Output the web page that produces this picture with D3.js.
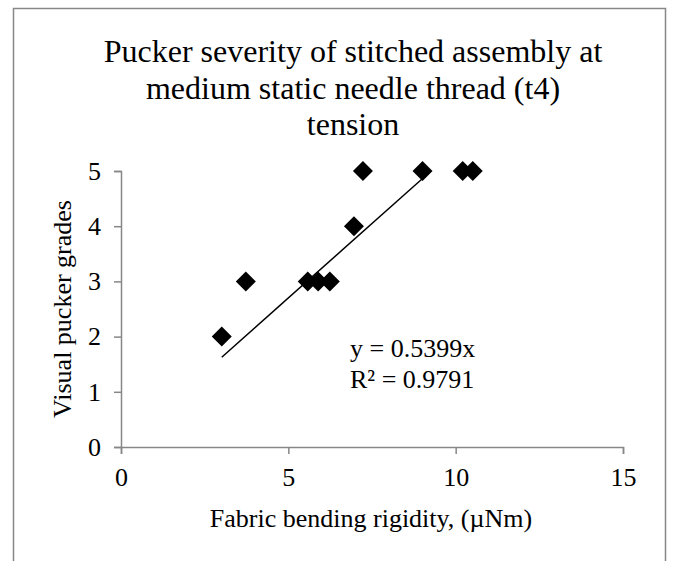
<!DOCTYPE html>
<html>
<head>
<meta charset="utf-8">
<script src="https://cdn.jsdelivr.net/npm/d3@7"></script>
<style>
  body { margin: 0; background: #fff; }
  text { font-family: "Liberation Serif", "Times New Roman", serif; fill: #000; }
</style>
</head>
<body>
<div id="chart"></div>
<script>
const rigidity = [3.01, 3.73, 5.58, 5.89, 6.24, 6.96, 7.23, 9.01, 10.21, 10.51];
const grades = [2, 3, 3, 3, 3, 4, 5, 5, 5, 5];
const slope = 0.5399;
const trendRange = [3.01, 9.01];
const xTicks = [0, 5, 10, 15];
const yTicks = [0, 1, 2, 3, 4, 5];
const titleLines = ["Pucker severity of stitched assembly at", "medium static needle thread (t4)", "tension"];
const equationLines = ["y = 0.5399x", "R² = 0.9791"];

const width = 673;
const height = 561;
const axisColor = "#878787";
const svg = d3.select("#chart").append("svg").attr("width", width).attr("height", height);

// chart frame (bottom edge runs off the picture)
svg.append("path")
  .attr("d", `M13.5,${height + 2}V8.5H665.5V${height + 2}`)
  .attr("fill", "none")
  .attr("stroke", axisColor)
  .attr("stroke-width", 1.5);

const x = d3.scaleLinear().domain([0, 15]).range([121, 623]);
const y = d3.scaleLinear().domain([0, 5]).range([447, 171]);

svg.append("g")
  .selectAll("text")
  .data(titleLines)
  .enter()
  .append("text")
  .attr("x", 353)
  .attr("y", (d, i) => 62 + i * 36.7)
  .attr("text-anchor", "middle")
  .attr("font-size", "32px")
  .text(d => d);

const xAxis = svg.append("g")
  .attr("transform", `translate(0,${y(0)})`)
  .call(d3.axisBottom(x).tickValues(xTicks).tickFormat(d3.format("d")).tickSize(7).tickPadding(14));
const yAxis = svg.append("g")
  .attr("transform", `translate(${x(0)},0)`)
  .call(d3.axisLeft(y).tickValues(yTicks).tickFormat(d3.format("d")).tickSize(7).tickPadding(13));

[xAxis, yAxis].forEach(ax => {
  ax.attr("font-size", null).attr("font-family", null);
  ax.select(".domain").attr("stroke", axisColor).attr("stroke-width", 1.5);
  ax.selectAll(".tick line").attr("stroke", axisColor).attr("stroke-width", 1.5);
  ax.selectAll(".tick text")
    .style("font-size", "26px")
    .attr("fill", "#000");
});

svg.append("text")
  .attr("x", 371)
  .attr("y", 527)
  .attr("text-anchor", "middle")
  .attr("font-size", "26px")
  .text("Fabric bending rigidity, (µNm)");

svg.append("text")
  .attr("transform", `translate(71,${(y(0) + y(5)) / 2}) rotate(-90)`)
  .attr("text-anchor", "middle")
  .attr("font-size", "26px")
  .text("Visual pucker grades");

// linear trendline through origin
svg.append("line")
  .attr("x1", x(trendRange[0]))
  .attr("y1", y(slope * trendRange[0]))
  .attr("x2", x(trendRange[1]))
  .attr("y2", y(slope * trendRange[1]))
  .attr("stroke", "#000")
  .attr("stroke-width", 1.5);

const diamond = d3.symbol().type(d3.symbolSquare).size(200);
svg.append("g")
  .selectAll("path")
  .data(rigidity)
  .enter()
  .append("path")
  .attr("d", diamond)
  .attr("transform", (d, i) => `translate(${x(d)},${y(grades[i])}) rotate(45)`)
  .attr("fill", "#000");

svg.append("g")
  .selectAll("text")
  .data(equationLines)
  .enter()
  .append("text")
  .attr("x", 350)
  .attr("y", (d, i) => 357 + i * 31)
  .attr("font-size", "26px")
  .text(d => d);
</script>
</body>
</html>
